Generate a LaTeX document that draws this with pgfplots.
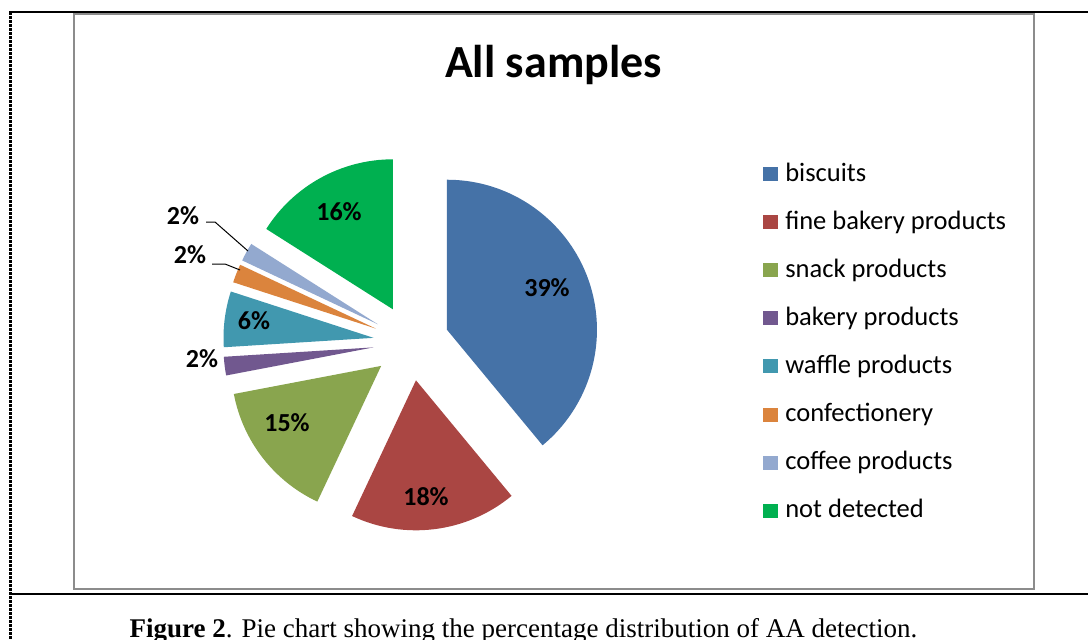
\documentclass[border=0pt]{standalone}
\usepackage{pgfplots}
\usepackage{pgfplotstable}
\pgfplotsset{compat=1.18}
\usepackage{fontspec}
\setmainfont{Carlito}
\newfontfamily\captionfont{Liberation Serif}

% slice colours
\definecolor{cBis}{HTML}{4572A7}
\definecolor{cFine}{HTML}{AA4643}
\definecolor{cSnack}{HTML}{89A54E}
\definecolor{cBak}{HTML}{71588F}
\definecolor{cWaf}{HTML}{4198AF}
\definecolor{cConf}{HTML}{DB843D}
\definecolor{cCof}{HTML}{93A9CF}
\definecolor{cNot}{HTML}{00B050}
\definecolor{frameGray}{HTML}{8C8C8C}

\newcommand\titlesize{\fontsize{34.5}{40}\selectfont}
\newcommand\labelsize{\fontsize{19.5}{23}\selectfont}
\newcommand\legsize{\fontsize{19.9}{23}\selectfont}

% share of all samples (%), colour, data-label position
\pgfplotstableread[col sep=comma]{
name,value,color,lx,ly
biscuits,39,cBis,547,288
fine bakery products,18,cFine,426,497
snack products,15,cSnack,287,423
bakery products,2,cBak,202,359
waffle products,6,cWaf,254,321
confectionery,2,cConf,190,255
coffee products,2,cCof,183,216
not detected,16,cNot,339,212
}\pietable

\begin{document}
\begin{tikzpicture}
\begin{axis}[
  x=0.75pt, y=0.75pt,
  xmin=0, xmax=1088, ymin=0, ymax=639,
  y dir=reverse,
  hide axis, clip=false,
  anchor=south west, at={(0,0)},
]
% page rules and chart frame
\draw[black, line width=2pt, dash pattern=on 2.25pt off 0.75pt] (axis cs:10.5,12) -- (axis cs:10.5,639);
\draw[black, line width=1.5pt] (axis cs:9,12) -- (axis cs:1088,12);
\draw[black, line width=1.5pt] (axis cs:9,594) -- (axis cs:1088,594);
\draw[frameGray, line width=1.5pt] (axis cs:73.5,13.5) rectangle (axis cs:1034,588.5);

\node[font=\bfseries\titlesize, anchor=base, inner sep=0] at (axis cs:553.5,77) {All samples};

% exploded pie, clockwise from 12 o'clock, plus legend
\pgfmathsetmacro\cum{0}
\pgfplotsforeachungrouped \i in {0,...,7}{%
  \pgfplotstablegetelem{\i}{value}\of\pietable \edef\val{\pgfplotsretval}%
  \pgfplotstablegetelem{\i}{color}\of\pietable \edef\col{\pgfplotsretval}%
  \pgfplotstablegetelem{\i}{name}\of\pietable \edef\nam{\pgfplotsretval}%
  \pgfplotstablegetelem{\i}{lx}\of\pietable \edef\lx{\pgfplotsretval}%
  \pgfplotstablegetelem{\i}{ly}\of\pietable \edef\ly{\pgfplotsretval}%
  \pgfmathsetmacro\aStart{90-3.6*\cum}%
  \pgfmathsetmacro\aEnd{90-3.6*(\cum+\val)}%
  \pgfmathsetmacro\aMid{(\aStart+\aEnd)/2}%
  \pgfmathsetmacro\legTop{167+48.1*\i}%
  \pgfmathsetmacro\legBot{181+48.1*\i}%
  \pgfmathsetmacro\legBase{181+48.1*\i}%
  \edef\slice{%
    \noexpand\fill[\col] ([shift={(\aMid:28.5pt)}]axis cs:411.2,342.6)
      -- ++(\aStart:112.5pt) arc[start angle=\aStart, end angle=\aEnd, radius=112.5pt] -- cycle;
    \noexpand\node[font=\noexpand\bfseries\noexpand\labelsize, inner sep=0] at (axis cs:\lx,\ly) {\val\noexpand\%};
    \noexpand\fill[\col] (axis cs:763,\legTop) rectangle (axis cs:778,\legBot);
    \noexpand\node[font=\noexpand\legsize, anchor=base west, inner sep=0] at (axis cs:785,\legBase) {\nam};
  }%
  \slice
  \pgfmathsetmacro\cum{\cum+\val}%
}

% leader lines for the two small outside labels
\draw[black, line width=0.75pt] (axis cs:206,222) -- (axis cs:215,222) -- (axis cs:248,251);
\draw[black, line width=0.75pt] (axis cs:212,264) -- (axis cs:225,264) -- (axis cs:240,270);

\node[font=\captionfont\fontsize{20.25}{24}\selectfont, anchor=base, inner sep=0] at (axis cs:523.5,637)
  {\textbf{Figure 2}. Pie chart showing the percentage distribution of AA detection.};
\end{axis}
\pgfresetboundingbox
\useasboundingbox (0,0) rectangle (816pt,479.25pt);
\end{tikzpicture}
\end{document}
